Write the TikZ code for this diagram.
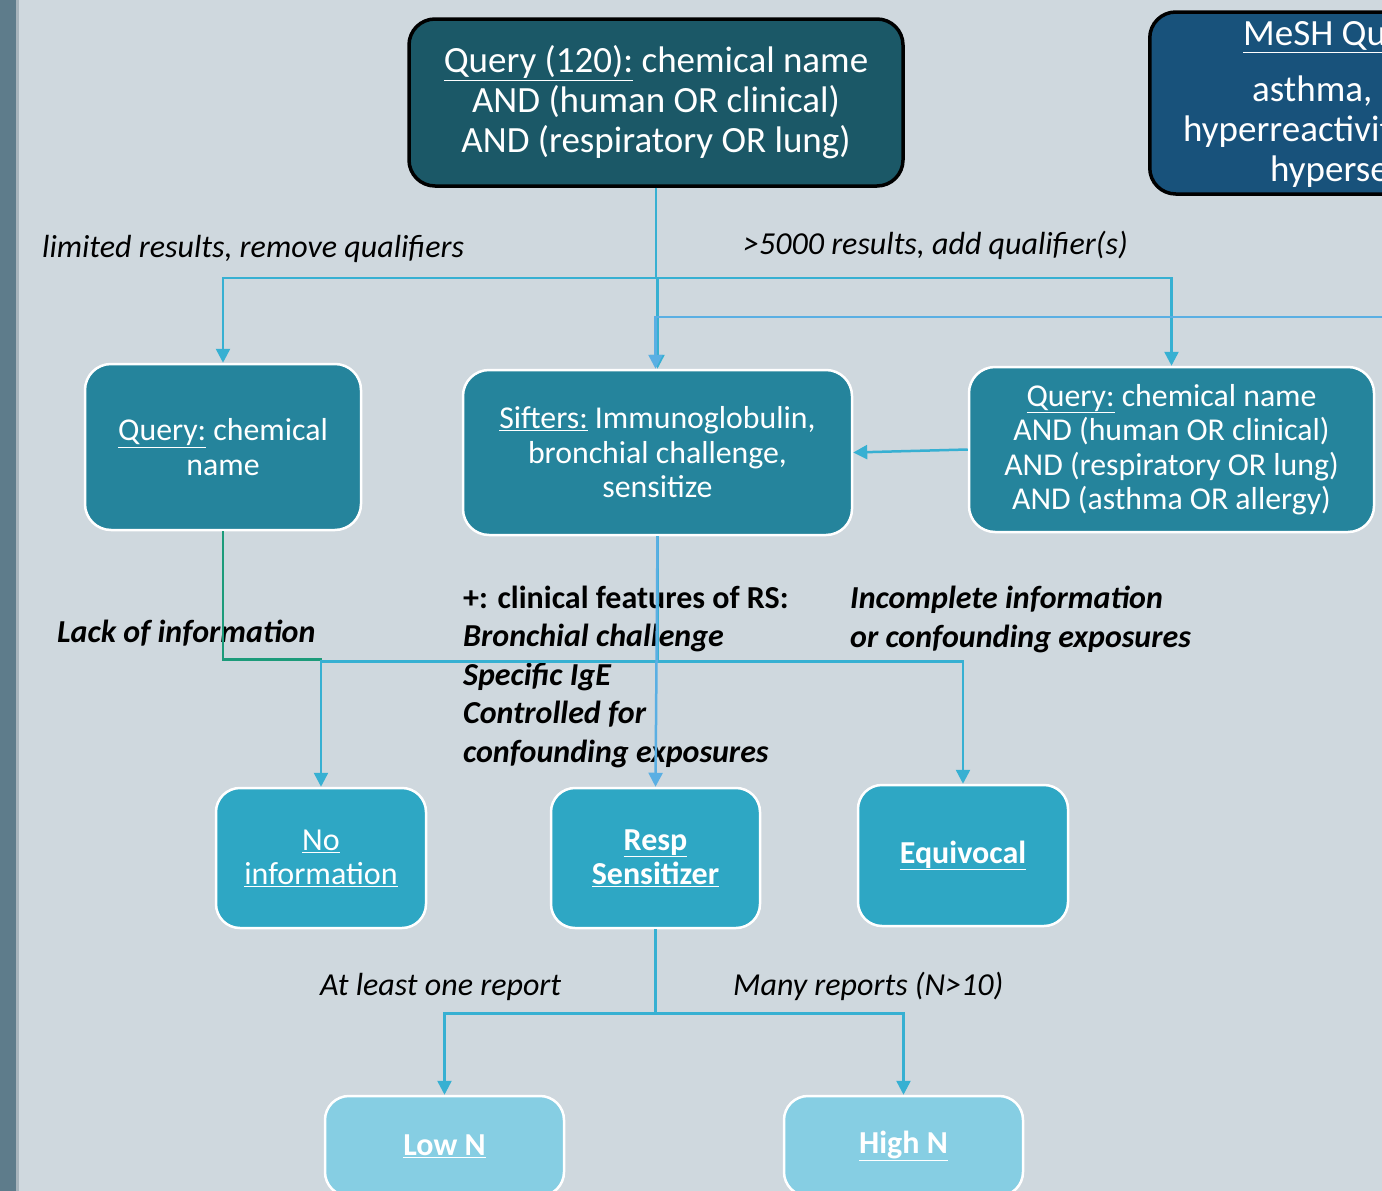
\documentclass[tikz,border=0pt]{standalone}
\usepackage{fontspec}
\setmainfont{Carlito}
\usetikzlibrary{arrows.meta}
\definecolor{bgcol}{HTML}{CFD8DE}
\definecolor{stripcol}{HTML}{5E7C8B}
\definecolor{stripedge}{HTML}{A7B4BC}
\definecolor{topfill}{HTML}{1B5867}
\definecolor{meshfill}{HTML}{18527B}
\definecolor{midfill}{HTML}{25849C}
\definecolor{botfill}{HTML}{2EA7C4}
\definecolor{lowfill}{HTML}{86CEE3}
\definecolor{cyanl}{HTML}{37B0D2}
\definecolor{bluel}{HTML}{5AAFE3}
\definecolor{greenl}{HTML}{1C9B7A}
\tikzset{
  box/.style={rounded corners=26pt, inner sep=0pt, align=center, text=white,
    line width=2.5pt, draw=white},
  topbox/.style={box, fill=topfill, draw=black, line width=3.5pt,
    font=\fontsize{37}{40}\selectfont},
  meshbox/.style={box, fill=meshfill, draw=black, line width=3.5pt},
  midbox/.style={box, fill=midfill, font=\fontsize{31.8}{34.5}\selectfont},
  botbox/.style={box, fill=botfill, rounded corners=24pt, font=\fontsize{32}{34}\selectfont},
  lowbox/.style={box, fill=lowfill, rounded corners=24pt, font=\fontsize{32}{34}\selectfont},
  meshtxt/.style={anchor=base west, inner sep=0pt, text=white, font=\fontsize{37}{40}\selectfont},
  lbl/.style={anchor=base west, inner sep=0pt, text=black, font=\fontsize{32}{38.5}\selectfont},
  conn/.style={draw=cyanl, line width=2.5pt, -{Triangle[width=14pt,length=14pt]}},
  gline/.style={draw=greenl, line width=2.5pt}
}
\begin{document}
\begin{tikzpicture}[x=1pt,y=-1pt]
\useasboundingbox (0,0) rectangle (1382,1191);
\clip (0,0) rectangle (1382,1191);
\fill[bgcol] (0,0) rectangle (1382,1191);
\fill[stripcol] (0,0) rectangle (16,1191);
\fill[stripedge] (16,0) rectangle (18.5,1191);

% boxes
\node[topbox, minimum width=494pt, minimum height=167pt] (top) at (656,102.5)
  {\underline{Query (120):} chemical name\\AND (human OR clinical)\\AND (respiratory OR lung)};
\node[meshbox, minimum width=460pt, minimum height=182pt, anchor=west] (mesh) at (1148,103) {};
\node[meshtxt] (m1) at (1243,45) {\underline{MeSH Query}};
\node[meshtxt] (m2) at (1252,101) {asthma, bronchial};
\node[meshtxt] (m3) at (1183,141) {hyperreactivity, respiratory};
\node[meshtxt] (m4) at (1270,181) {hypersensitivity};

\node[midbox, minimum width=276pt, minimum height=166pt] (leftq) at (223,447)
  {\underline{Query:} chemical\\name};
\node[midbox, minimum width=389pt, minimum height=165pt] (sift) at (657.5,452.5)
  {\underline{Sifters:} Immunoglobulin,\\bronchial challenge,\\sensitize};
\node[midbox, minimum width=405pt, minimum height=165pt] (rightq) at (1171.5,449.5)
  {\underline{Query:} chemical name\\AND (human OR clinical)\\AND (respiratory OR lung)\\AND (asthma OR allergy)};

\node[botbox, minimum width=210pt, minimum height=140pt] (noinfo) at (321,858)
  {\underline{No}\\\underline{information}};
\node[botbox, minimum width=209pt, minimum height=140pt] (resp) at (655.5,858)
  {\bfseries\underline{Resp}\\\bfseries\underline{Sensitizer}};
\node[botbox, minimum width=210pt, minimum height=141pt] (equiv) at (963,855.5)
  {\bfseries\underline{Equivocal}};
\node[lowbox, minimum width=239pt, minimum height=100pt] (lown) at (444.5,1146)
  {\bfseries\underline{Low N}};
\node[lowbox, minimum width=239pt, minimum height=100pt] (highn) at (903.5,1146)
  {\bfseries\underline{High N}};

% labels
\node[lbl] (lab1) at (42,257) {\itshape limited results, remove qualifiers};
\node[lbl] (lab2) at (743,254) {\itshape >5000 results, add qualifier(s)};
\node[lbl] (lab3) at (57,642) {\bfseries\itshape Lack of information};
\node[lbl, align=left] (lab4) at (463,762)
  {\bfseries +: clinical features of RS:\\
   \bfseries\itshape Bronchial challenge\\
   \bfseries\itshape Specific IgE\\
   \bfseries\itshape Controlled for\\
   \bfseries\itshape confounding exposures};
\node[lbl, align=left] (lab5) at (850,647)
  {\bfseries\itshape Incomplete information\\\bfseries\itshape or confounding exposures};
\node[lbl] (lab6) at (320,995) {\itshape At least one report};
\node[lbl] (lab7) at (733,995) {\itshape Many reports (N>10)};

% connectors
\coordinate (meshin) at (1400,317);
\coordinate (j1) at (322,659.5);
\draw[conn] (top.south) -- ++(0,90) -| (leftq.north);
\draw[conn] (top.south) -- ++(0,90) -| (rightq.north);
\draw[conn] (top.south) -- ++(0,90) -| (sift.north);
\draw[conn, draw=bluel] (meshin) -| ([xshift=-2pt]sift.north);
\draw[conn] (rightq.west) -- (sift.east);
\draw[gline] (leftq.south) |- (j1);
\draw[conn] (sift.south) -- ++(0,125) -| (noinfo.north);
\draw[conn] (sift.south) -- ++(0,125) -| (equiv.north);
\draw[conn, draw=bluel] (sift.south) -- (resp.north);
\draw[conn] (resp.south) -- ++(0,84) -| (lown.north);
\draw[conn] (resp.south) -- ++(0,84) -| (highn.north);
\end{tikzpicture}
\end{document}
